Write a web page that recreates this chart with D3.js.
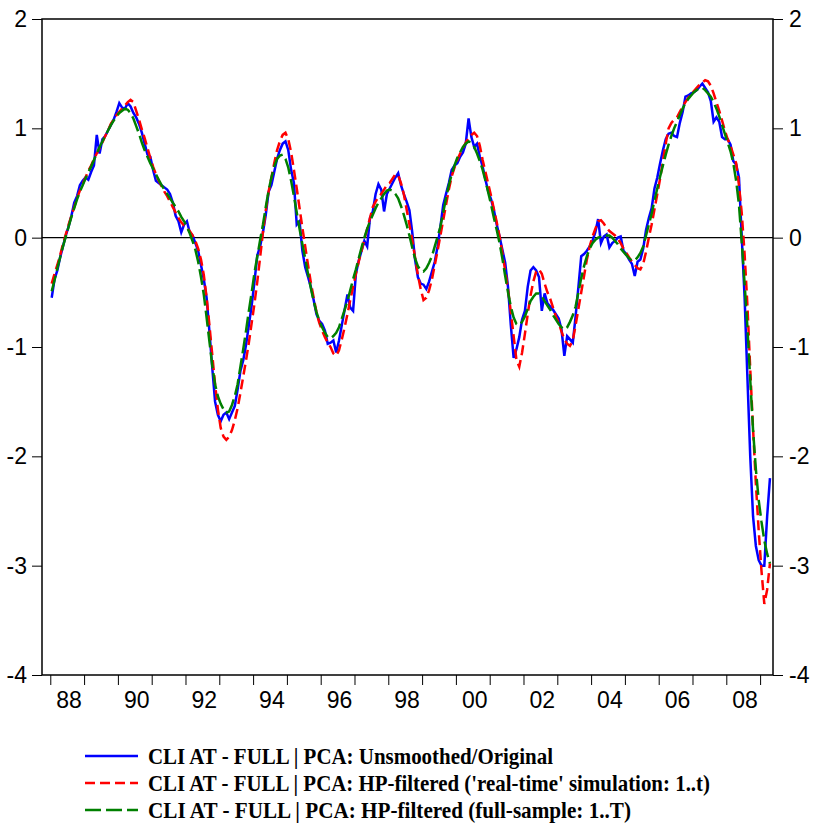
<!DOCTYPE html>
<html>
<head>
<meta charset="utf-8">
<script src="https://cdn.jsdelivr.net/npm/d3@7"></script>
<style>
  body { margin: 0; background: #fff; }
  .axis text { font-family: "Liberation Sans", Arial, sans-serif; font-size: 23px; fill: #000; }
  .axis line { stroke: #000; stroke-width: 1; }
  .axis path { display: none; }
  .legend text { font-family: "Liberation Serif", "Times New Roman", serif; font-weight: bold; font-size: 23px; fill: #000; }
</style>
</head>
<body>
<div id="chart"></div>
<script>
// monthly data, 1988M01 .. 2009M04
var startYear = 1988;

var unsmoothed = [
  -0.55, -0.38, -0.30, -0.18, -0.08, 0.02, 0.10, 0.20, 0.32, 0.38, 0.48, 0.52,   // 1988
  0.55, 0.53, 0.60, 0.66, 0.94, 0.77, 0.90, 0.93, 0.98, 1.03, 1.08, 1.15,        // 1989
  1.23, 1.19, 1.18, 1.23, 1.20, 1.14, 1.10, 1.04, 0.96, 0.86, 0.76, 0.74,        // 1990
  0.62, 0.52, 0.50, 0.48, 0.46, 0.44, 0.40, 0.32, 0.20, 0.15, 0.05, 0.12,        // 1991
  0.15, 0.05, 0.02, -0.05, -0.12, -0.25, -0.38, -0.55, -0.86, -1.19, -1.50, -1.62, // 1992
  -1.68, -1.62, -1.60, -1.66, -1.60, -1.54, -1.39, -1.22, -1.12, -0.98, -0.80, -0.62, // 1993
  -0.40, -0.16, -0.08, 0.05, 0.21, 0.42, 0.48, 0.60, 0.72, 0.80, 0.86, 0.88,     // 1994
  0.80, 0.62, 0.50, 0.12, 0.15, -0.12, -0.27, -0.36, -0.45, -0.57, -0.70, -0.76, // 1995
  -0.79, -0.85, -0.97, -0.96, -0.94, -1.05, -0.94, -0.80, -0.66, -0.52, -0.64, -0.67, // 1996
  -0.33, -0.21, -0.12, -0.03, -0.08, 0.18, 0.24, 0.40, 0.49, 0.44, 0.24, 0.40,   // 1997
  0.45, 0.50, 0.55, 0.59, 0.48, 0.40, 0.33, 0.25, 0.05, -0.20, -0.36, -0.42,     // 1998
  -0.43, -0.47, -0.40, -0.31, -0.22, -0.08, 0.10, 0.30, 0.40, 0.50, 0.62, 0.66,  // 1999
  0.68, 0.74, 0.78, 0.86, 1.09, 0.92, 0.83, 0.86, 0.74, 0.65, 0.53, 0.42,        // 2000
  0.35, 0.25, 0.12, 0.01, -0.11, -0.23, -0.45, -0.80, -1.10, -1.02, -0.91, -0.75, // 2001
  -0.67, -0.45, -0.30, -0.27, -0.30, -0.36, -0.67, -0.51, -0.60, -0.63, -0.66, -0.70, // 2002
  -0.74, -0.84, -1.08, -0.90, -0.93, -0.96, -0.72, -0.45, -0.17, -0.15, -0.12, -0.08, // 2003
  -0.03, 0.05, 0.17, -0.05, 0.01, 0.03, -0.09, -0.05, -0.03, 0.00, 0.01, -0.12,  // 2004
  -0.15, -0.20, -0.24, -0.35, -0.22, -0.20, -0.10, 0.07, 0.18, 0.27, 0.45, 0.55, // 2005
  0.68, 0.80, 0.90, 0.95, 0.96, 0.93, 0.92, 1.05, 1.15, 1.29, 1.30, 1.32,        // 2006
  1.33, 1.35, 1.38, 1.41, 1.37, 1.33, 1.25, 1.06, 1.10, 1.06, 0.92, 0.90,        // 2007
  0.90, 0.85, 0.70, 0.67, 0.55, 0.00, -0.55, -1.28, -2.00, -2.55, -2.82, -2.95,  // 2008
  -3.00, -3.00, -2.55, -2.20                                                     // 2009
];

var hpRealTime = [
  -0.42, -0.33, -0.25, -0.16, -0.06, 0.03, 0.12, 0.20, 0.28, 0.36, 0.43, 0.49,
  0.55, 0.61, 0.66, 0.72, 0.77, 0.82, 0.87, 0.93, 0.98, 1.04, 1.08, 1.12,
  1.15, 1.18, 1.21, 1.24, 1.26, 1.24, 1.16, 1.08, 0.99, 0.91, 0.82, 0.73,
  0.65, 0.58, 0.52, 0.47, 0.42, 0.38, 0.33, 0.28, 0.23, 0.18, 0.14, 0.11,
  0.09, 0.06, 0.02, -0.03, -0.10, -0.20, -0.34, -0.55, -0.80, -1.07, -1.34, -1.57,
  -1.74, -1.82, -1.85, -1.82, -1.76, -1.67, -1.56, -1.42, -1.27, -1.12, -0.96, -0.78,
  -0.60, -0.40, -0.18, 0.05, 0.25, 0.42, 0.55, 0.68, 0.80, 0.88, 0.94, 0.96,
  0.90, 0.78, 0.62, 0.45, 0.27, 0.09, -0.08, -0.25, -0.41, -0.55, -0.68, -0.78,
  -0.85, -0.91, -0.96, -1.00, -1.06, -1.08, -1.03, -0.93, -0.82, -0.70, -0.57, -0.45,
  -0.33, -0.22, -0.12, -0.02, 0.08, 0.18, 0.28, 0.33, 0.37, 0.40, 0.44, 0.48,
  0.50, 0.54, 0.58, 0.57, 0.50, 0.40, 0.26, 0.12, -0.02, -0.18, -0.34, -0.47,
  -0.57, -0.55, -0.48, -0.38, -0.25, -0.12, 0.02, 0.16, 0.30, 0.44, 0.56, 0.64,
  0.71, 0.77, 0.82, 0.87, 0.91, 0.94, 0.96, 0.93, 0.84, 0.71, 0.60, 0.49,
  0.38, 0.26, 0.14, 0.01, -0.14, -0.30, -0.47, -0.68, -0.90, -1.12, -1.18, -1.05,
  -0.88, -0.70, -0.53, -0.40, -0.31, -0.29, -0.33, -0.42, -0.50, -0.56, -0.64, -0.72,
  -0.78, -0.86, -0.93, -0.97, -0.99, -0.94, -0.80, -0.65, -0.50, -0.35, -0.20, -0.08,
  0.01, 0.08, 0.15, 0.16, 0.13, 0.09, 0.06, 0.04, 0.02, -0.01, -0.05, -0.10,
  -0.14, -0.18, -0.22, -0.25, -0.28, -0.29, -0.24, -0.13, 0.00, 0.12, 0.26, 0.40,
  0.54, 0.70, 0.86, 1.00, 1.05, 1.08, 1.10, 1.15, 1.20, 1.24, 1.28, 1.31,
  1.34, 1.37, 1.40, 1.42, 1.44, 1.43, 1.39, 1.32, 1.24, 1.16, 1.07, 0.98,
  0.90, 0.84, 0.76, 0.68, 0.48, 0.22, -0.15, -0.62, -1.20, -1.75, -2.25, -2.68,
  -3.05, -3.35, -3.22, -2.98
];

var hpFullSample = [
  -0.49, -0.39, -0.28, -0.18, -0.08, 0.01, 0.10, 0.19, 0.27, 0.35, 0.42, 0.48,
  0.54, 0.60, 0.65, 0.71, 0.77, 0.83, 0.88, 0.93, 0.98, 1.03, 1.07, 1.11,
  1.14, 1.16, 1.18, 1.17, 1.14, 1.09, 1.02, 0.95, 0.87, 0.80, 0.74, 0.68,
  0.63, 0.58, 0.53, 0.48, 0.44, 0.40, 0.36, 0.32, 0.28, 0.24, 0.19, 0.15,
  0.10, 0.04, -0.03, -0.11, -0.22, -0.36, -0.52, -0.73, -0.95, -1.17, -1.34, -1.45,
  -1.52, -1.57, -1.60, -1.59, -1.53, -1.45, -1.34, -1.18, -1.02, -0.85, -0.67, -0.50,
  -0.32, -0.17, -0.02, 0.12, 0.28, 0.43, 0.55, 0.65, 0.72, 0.75, 0.76, 0.72,
  0.64, 0.52, 0.38, 0.23, 0.08, -0.06, -0.19, -0.33, -0.46, -0.58, -0.68, -0.76,
  -0.82, -0.87, -0.91, -0.92, -0.90, -0.87, -0.82, -0.74, -0.66, -0.58, -0.48, -0.38,
  -0.29, -0.19, -0.09, 0.00, 0.08, 0.15, 0.21, 0.27, 0.32, 0.36, 0.40, 0.43,
  0.44, 0.43, 0.40, 0.36, 0.29, 0.21, 0.12, 0.02, -0.09, -0.19, -0.26, -0.30,
  -0.31, -0.28, -0.23, -0.17, -0.08, 0.01, 0.10, 0.23, 0.36, 0.48, 0.58, 0.66,
  0.73, 0.78, 0.83, 0.86, 0.88, 0.87, 0.83, 0.77, 0.70, 0.62, 0.52, 0.41,
  0.30, 0.18, 0.07, -0.05, -0.19, -0.35, -0.50, -0.63, -0.73, -0.79, -0.80, -0.77,
  -0.72, -0.65, -0.58, -0.54, -0.51, -0.51, -0.54, -0.58, -0.62, -0.66, -0.71, -0.75,
  -0.79, -0.82, -0.84, -0.82, -0.77, -0.71, -0.63, -0.50, -0.37, -0.26, -0.17, -0.10,
  -0.05, -0.02, 0.00, 0.01, 0.02, 0.02, 0.02, 0.00, -0.03, -0.06, -0.10, -0.13,
  -0.16, -0.19, -0.21, -0.21, -0.18, -0.14, -0.08, 0.02, 0.12, 0.22, 0.34, 0.45,
  0.56, 0.66, 0.76, 0.85, 0.93, 1.00, 1.06, 1.12, 1.18, 1.23, 1.27, 1.30,
  1.33, 1.35, 1.37, 1.37, 1.35, 1.32, 1.29, 1.24, 1.18, 1.11, 1.03, 0.95,
  0.87, 0.79, 0.68, 0.52, 0.30, -0.05, -0.42, -0.82, -1.30, -1.76, -2.12, -2.40,
  -2.60, -2.77, -2.89, -2.98
];

var yTicks = [-4, -3, -2, -1, 0, 1, 2];
var yearTicks = d3.range(1988, 2010);          // one tick per year
var yearLabels = ["88", "90", "92", "94", "96", "98", "00", "02", "04", "06", "08"];

var legendNames = [
  "CLI AT - FULL | PCA: Unsmoothed/Original",
  "CLI AT - FULL | PCA: HP-filtered ('real-time' simulation: 1..t)",
  "CLI AT - FULL | PCA: HP-filtered (full-sample: 1..T)"
];

// set the dimensions of the graph
var width = 816, height = 831;
var plot = {left: 42, right: 773, top: 19, bottom: 675};

var svg = d3.select("#chart")
  .append("svg")
  .attr("width", width)
  .attr("height", height)
  .style("background", "#fff");

// x is time in years, a month sits at year + m/12
var x = d3.scaleLinear()
  .domain([1987.713, 2009.34])
  .range([plot.left, plot.right]);

var y = d3.scaleLinear()
  .domain([-4, 2])
  .range([plot.bottom, plot.top]);

function toSeries(vals) {
  return vals.map(function(v, i) { return {t: startYear + i / 12, v: v}; });
}

// plain hyphen for negatives, like the original
var yFormat = function(d) { return String(d); };

// y axes on both sides
svg.append("g")
  .attr("class", "axis")
  .attr("transform", "translate(" + plot.left + ",0)")
  .call(d3.axisLeft(y).tickValues(yTicks).tickSize(10).tickPadding(5).tickFormat(yFormat));

svg.append("g")
  .attr("class", "axis")
  .attr("transform", "translate(" + plot.right + ",0)")
  .call(d3.axisRight(y).tickValues(yTicks).tickSize(10).tickPadding(6).tickFormat(yFormat));

// x axis: ticks at the year boundaries, labels in the middle of even years
svg.append("g")
  .attr("class", "axis")
  .attr("transform", "translate(0," + plot.bottom + ")")
  .call(d3.axisBottom(x)
    .tickValues(yearTicks.map(function(d) { return d - 1 / 24; }))
    .tickSize(10)
    .tickFormat(""));

svg.append("g")
  .attr("class", "axis")
  .attr("transform", "translate(0," + plot.bottom + ")")
  .call(d3.axisBottom(x)
    .tickValues(yearLabels.map(function(d, i) { return 1988 + 2 * i + 0.5; }))
    .tickSize(0)
    .tickPadding(17)
    .tickFormat(function(d, i) { return yearLabels[i]; }))
  .selectAll("line").remove();

// zero line
svg.append("line")
  .attr("x1", plot.left).attr("x2", plot.right)
  .attr("y1", y(0)).attr("y2", y(0))
  .attr("stroke", "#000").attr("stroke-width", 1.2);

var line = d3.line()
  .x(function(d) { return x(d.t); })
  .y(function(d) { return y(d.v); });

var series = [
  {vals: unsmoothed, color: "#0000ff", dash: null},
  {vals: hpRealTime, color: "#ff0000", dash: "10,5"},
  {vals: hpFullSample, color: "#008000", dash: "16,5"}
];

svg.selectAll(".series")
  .data(series)
  .enter()
  .append("path")
  .attr("class", "series")
  .attr("d", function(s) { return line(toSeries(s.vals)); })
  .attr("fill", "none")
  .attr("stroke", function(s) { return s.color; })
  .attr("stroke-width", 2.5)
  .attr("stroke-dasharray", function(s) { return s.dash; });

// frame
svg.append("rect")
  .attr("x", plot.left).attr("y", plot.top)
  .attr("width", plot.right - plot.left)
  .attr("height", plot.bottom - plot.top)
  .attr("fill", "none")
  .attr("stroke", "#000")
  .attr("stroke-width", 1.5);

// legend
var legendWidths = [405, 562, 483];
var legend = svg.append("g").attr("class", "legend");

legend.selectAll("line")
  .data(series)
  .enter()
  .append("line")
  .attr("x1", 85).attr("x2", 138)
  .attr("y1", function(s, i) { return 756 + i * 27; })
  .attr("y2", function(s, i) { return 756 + i * 27; })
  .attr("stroke", function(s) { return s.color; })
  .attr("stroke-width", 2.5)
  .attr("stroke-dasharray", function(s) { return s.dash; });

legend.selectAll("text")
  .data(legendNames)
  .enter()
  .append("text")
  .attr("x", 148)
  .attr("y", function(d, i) { return 764 + i * 27; })
  .attr("textLength", function(d, i) { return legendWidths[i]; })
  .attr("lengthAdjust", "spacingAndGlyphs")
  .text(function(d) { return d; });
</script>
</body>
</html>
